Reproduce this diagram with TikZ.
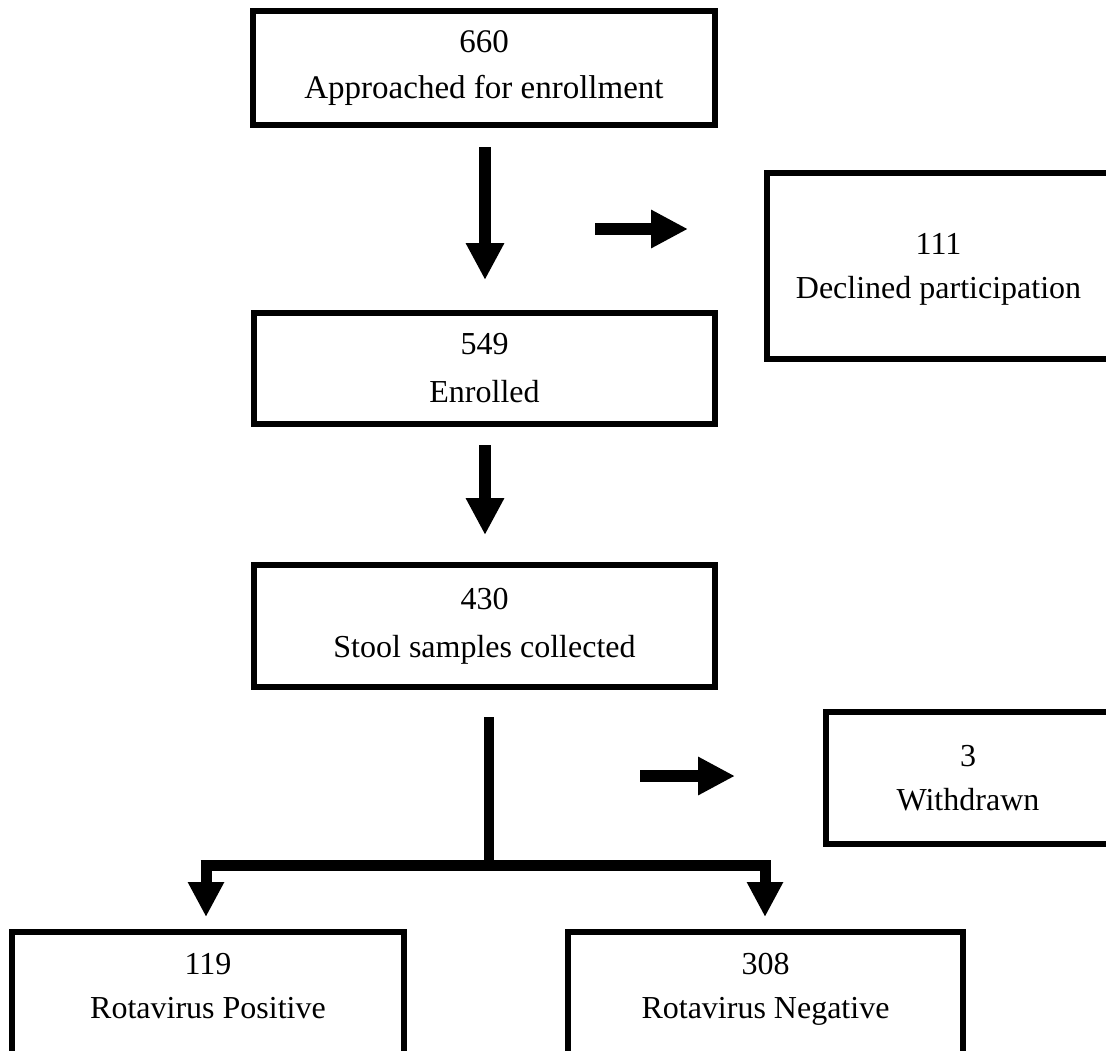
\documentclass[tikz,border=0pt]{standalone}
\usepackage{fontspec}
\setmainfont{Liberation Serif}
\usetikzlibrary{arrows.meta}
\begin{document}
\begin{tikzpicture}[x=1pt,y=-1pt,
  box/.style={draw=black, line width=6pt, rectangle, align=center, inner sep=0pt,
              font=\fontsize{32}{44}\selectfont},
  arr/.style={line width=12pt, -{Triangle[length=37pt,width=36pt]}},
  bar/.style={line width=11pt}]
\useasboundingbox (0,0) rectangle (1106,1050);
\fill[white] (0,0) rectangle (1106,1050);
\clip (0,0) rectangle (1106,1050);

% boxes
\node[box, minimum width=462pt, minimum height=114pt, font=\fontsize{33}{46}\selectfont]
  (appr) at (484,68) {660\\Approached for enrollment};
\node[box, minimum width=461pt, minimum height=111pt, font=\fontsize{32}{48}\selectfont]
  (enr) at (484.5,368.5) {549\\Enrolled};
\node[box, minimum width=461pt, minimum height=122pt, font=\fontsize{32}{48}\selectfont]
  (stool) at (484.5,626) {430\\Stool samples collected};
\node[box, minimum width=343pt, minimum height=186pt, text depth=0pt]
  (decl) at (938.5,266) {111\\Declined participation};
\node[box, minimum width=284pt, minimum height=132pt]
  (wd) at (968,778) {3\\Withdrawn};
\node[box, minimum width=392pt, minimum height=128pt, text depth=20pt]
  (pos) at (208,996) {119\\Rotavirus Positive};
\node[box, minimum width=395pt, minimum height=128pt, text depth=20pt]
  (neg) at (765.5,996) {308\\Rotavirus Negative};

% arrow end points
\coordinate (a1s) at (485,147);
\coordinate (a1e) at (485,280);
\coordinate (r1s) at (595,229);
\coordinate (r1e) at (688,229);
\coordinate (a2s) at (485,445);
\coordinate (a2e) at (485,535);
\coordinate (vt) at (489,717);
\coordinate (vb) at (489,865);
\coordinate (hl) at (206,865);
\coordinate (hr) at (765,865);
\coordinate (pl) at (206,917);
\coordinate (pr) at (765,917);
\coordinate (r2s) at (640,776);
\coordinate (r2e) at (735,776);

% arrows
\draw[arr] (a1s) -- (a1e);
\draw[arr] (r1s) -- (r1e);
\draw[arr] (a2s) -- (a2e);
\draw[arr] (r2s) -- (r2e);
\draw[line width=10pt] (vt) -- (vb);
\draw[bar] ([xshift=-5.5pt]hl) -- ([xshift=5.5pt]hr);
\draw[line width=11pt, -{Triangle[length=35pt,width=34pt]}] ([yshift=-5.5pt]hl) -- (pl);
\draw[line width=11pt, -{Triangle[length=35pt,width=34pt]}] ([yshift=-5.5pt]hr) -- (pr);
\end{tikzpicture}
\end{document}
